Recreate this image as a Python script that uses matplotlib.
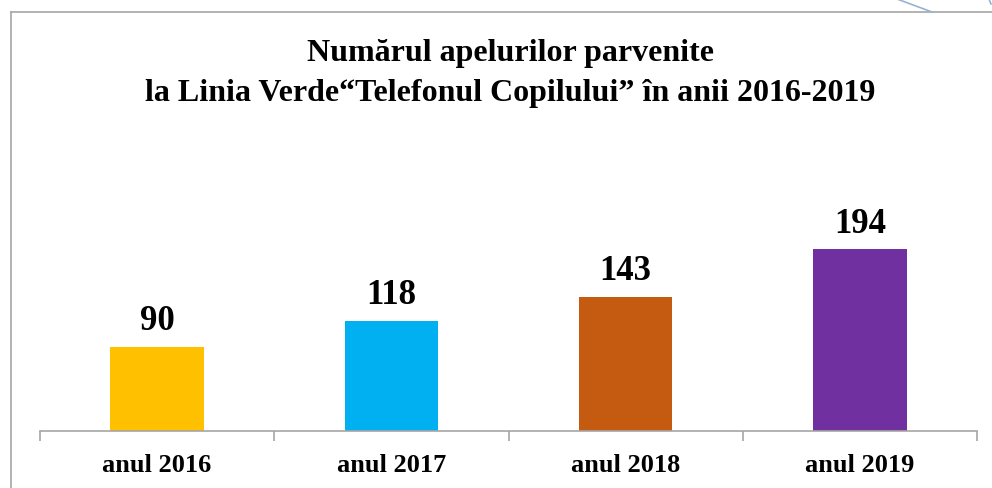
import numpy as np
import matplotlib.pyplot as plt
from matplotlib.lines import Line2D

# data
categories = ['anul 2016', 'anul 2017', 'anul 2018', 'anul 2019']
values = [90, 118, 143, 194]
colors = ['#FFC000', '#00B0F0', '#C55A11', '#7030A0']

plt.rcParams['font.family'] = ['Liberation Serif', 'DejaVu Serif']

W, H = 992, 489
fig = plt.figure(figsize=(W / 100, H / 100), dpi=100)
ax = fig.add_axes([40 / W, 1 - 432 / H, (977 - 40) / W, 234 / H])

x = np.arange(len(categories))
ax.bar(x, values, width=0.40, color=colors, zorder=2)
for xi, v in zip(x, values):
    ax.annotate(str(v), (xi, v), xytext=(0, 7), textcoords='offset points',
                ha='center', va='bottom', fontsize=25, fontweight='bold')

ax.set_xlim(-0.5, 3.5)
ax.set_ylim(0, 250)
for s in ['top', 'right', 'left']:
    ax.spines[s].set_visible(False)
ax.spines['bottom'].set_color('#A6A6A6')
ax.spines['bottom'].set_linewidth(1.2)
ax.set_yticks([])
ax.set_xticks(x)
ax.set_xticklabels(categories, fontsize=19, fontweight='bold')
ax.tick_params(axis='x', which='major', length=0, pad=16)
ax.set_xticks(np.arange(-0.5, 4.0, 1.0), minor=True)
ax.tick_params(axis='x', which='minor', length=7, color='#A6A6A6', width=1.2)

# title
fig.text(510 / W, 1 - 54 / H, 'Numărul apelurilor parvenite', ha='center', va='center',
         fontsize=23, fontweight='bold')
fig.text(510 / W, 1 - 94 / H, 'la Linia Verde\u201cTelefonul Copilului\u201d în anii 2016-2019',
         ha='center', va='center', fontsize=23, fontweight='bold')

# outer frame and decoration
fig.add_artist(Line2D([11 / W, 11 / W], [0, 1 - 13 / H], color='#A6A6A6', lw=1.2))
fig.add_artist(Line2D([11 / W, 1], [1 - 13 / H, 1 - 13 / H], color='#A6A6A6', lw=1.2))
fig.add_artist(Line2D([897 / W, 932 / W], [1, 1 - 13 / H], color='#95B3D7', lw=1.2))
fig.add_artist(Line2D([989 / W, 991 / W], [1, 1 - 5 / H], color='#95B3D7', lw=1.2))

fig.savefig('out.png', dpi=100)
